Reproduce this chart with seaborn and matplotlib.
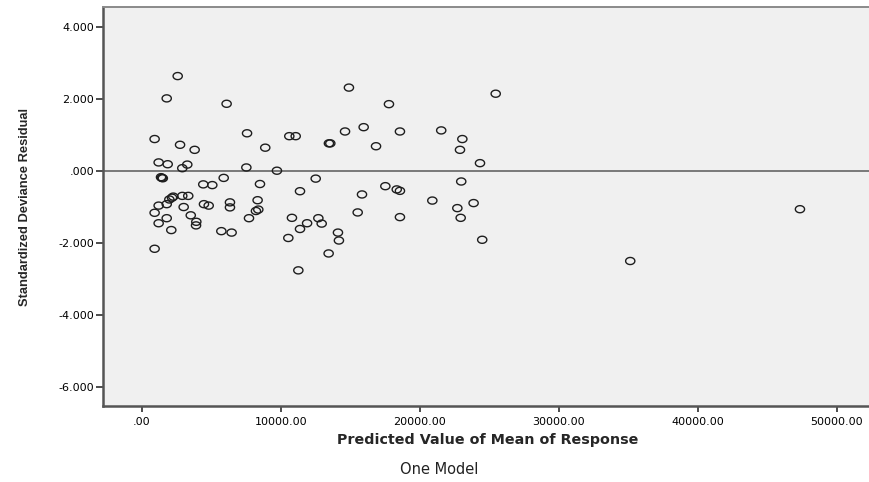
import numpy as np
import pandas as pd
import matplotlib
matplotlib.use("Agg")
import matplotlib.pyplot as plt
from matplotlib.path import Path
import seaborn as sns

# ---- data ----
predicted = [
    2590, 1800, 6110, 930, 2760, 3810, 7580, 8890, 10620, 11080,
    1220, 1870, 3280, 2920, 7530, 9730, 1390, 1450, 1520, 5900,
    4430, 5080, 8510, 11390, 1990, 2180, 2270, 2920, 3350, 1220,
    1800, 930, 3020, 4480, 4820, 6350, 6350, 8340, 8390, 8220,
    1220, 1800, 3530, 3930, 3910, 2130, 5730, 6470, 7720, 10810,
    11390, 11900, 10550, 930, 11270,
    14910, 17790, 15970, 14630, 18580, 21550, 23070, 22900, 13470, 13570,
    16860, 12520, 15850, 17530, 18350, 18580, 22990, 20910, 22710, 22950,
    15540, 18580, 12710, 12950, 14120, 14190, 13450,
    25470, 24340, 23880, 24500,
    47360, 35150,
]
residual = [
    2.64, 2.02, 1.87, 0.89, 0.73, 0.59, 1.05, 0.65, 0.97, 0.97,
    0.24, 0.19, 0.18, 0.08, 0.10, 0.01, -0.17, -0.19, -0.20, -0.19,
    -0.37, -0.39, -0.36, -0.56, -0.79, -0.74, -0.71, -0.69, -0.69, -0.96,
    -0.92, -1.16, -1.00, -0.92, -0.96, -0.87, -1.01, -0.81, -1.07, -1.11,
    -1.45, -1.31, -1.23, -1.41, -1.51, -1.64, -1.67, -1.71, -1.31, -1.30,
    -1.61, -1.45, -1.86, -2.16, -2.76,
    2.32, 1.86, 1.22, 1.10, 1.10, 1.13, 0.89, 0.59, 0.77, 0.77,
    0.69, -0.21, -0.65, -0.42, -0.51, -0.55, -0.29, -0.82, -1.03, -1.30,
    -1.15, -1.28, -1.31, -1.46, -1.71, -1.93, -2.29,
    2.15, 0.22, -0.89, -1.91,
    -1.06, -2.50,
]
x_ticks = [0, 10000, 20000, 30000, 40000, 50000]
x_tick_labels = [".00", "10000.00", "20000.00", "30000.00", "40000.00", "50000.00"]
y_ticks = [4, 2, 0, -2, -4, -6]
y_tick_labels = ["4.000", "2.000", ".000", "-2.000", "-4.000", "-6.000"]
x_title = "Predicted Value of Mean of Response"
y_title = "Standardized Deviance Residual"
footer = "One Model"

df = pd.DataFrame({"predicted": predicted, "residual": residual})

sns.set_theme(style="white")
plt.rcParams["font.family"] = ["DejaVu Sans"]

fig = plt.figure(figsize=(8.7, 4.82), dpi=100)
ax = fig.add_axes([103 / 870, 1 - 406 / 482, 767 / 870, 399 / 482])
ax.set_facecolor("#f0f0f0")

# slightly wide ellipse marker
t = np.linspace(0, 2 * np.pi, 64)
ell = Path(np.column_stack([1.3 * np.cos(t), np.sin(t)]), closed=True)

sns.scatterplot(data=df, x="predicted", y="residual", ax=ax,
                marker=ell, s=44, facecolors="none",
                edgecolor="#1e1e1e", linewidth=1.0, legend=False, zorder=3)

ax.axhline(0, color="#707070", lw=1.3, zorder=2)

ax.set_xlim(-2784, 52400)
ax.set_ylim(-6.53, 4.56)
ax.set_xticks(x_ticks)
ax.set_xticklabels(x_tick_labels)
ax.set_yticks(y_ticks)
ax.set_yticklabels(y_tick_labels)
ax.tick_params(axis="both", which="major", direction="out", length=4,
               width=1.4, color="#4d4d4d", labelsize=8, labelcolor="black")
ax.tick_params(axis="x", pad=4, bottom=True)
ax.tick_params(axis="y", pad=1.5, left=True, length=5)

for side in ["left", "bottom"]:
    ax.spines[side].set_color("#555555")
    ax.spines[side].set_linewidth(1.8)
ax.spines["top"].set_color("#8a8a8a")
ax.spines["top"].set_linewidth(1.4)
ax.spines["right"].set_visible(False)

ax.set_xlabel(x_title, fontsize=10.3, fontweight="bold", va="center",
              family=["DejaVu Sans"])
ax.xaxis.set_label_coords(0.502, -0.0852)
ax.set_ylabel(y_title, fontsize=9.3, fontweight="bold", va="center",
              family=["Liberation Sans", "DejaVu Sans"])
ax.yaxis.set_label_coords(-0.1017, 0.5)

fig.text(439.5 / 870, 1 - 470 / 482, footer, ha="center", va="center",
         fontsize=10.5, color="#222222")

fig.savefig("out.png", dpi=100, facecolor="white")
